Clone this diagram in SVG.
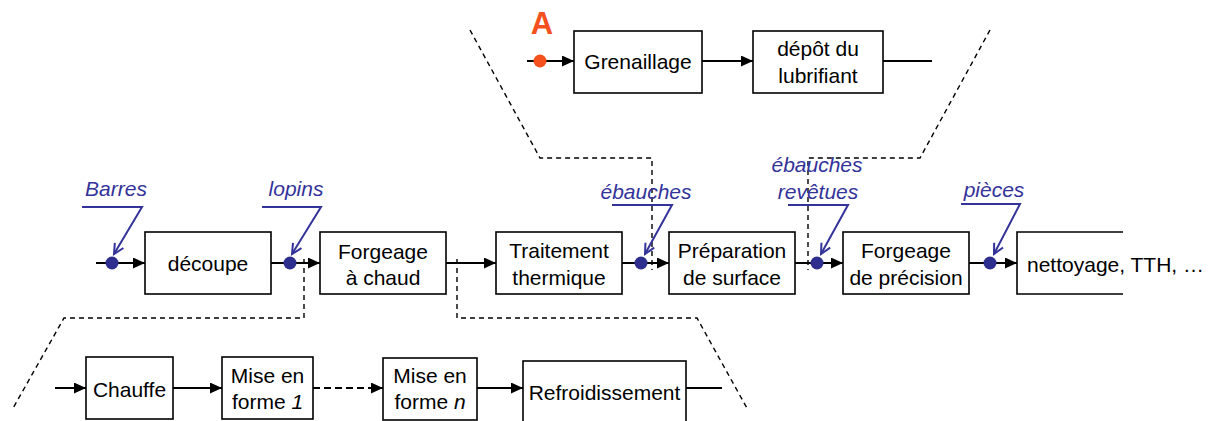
<svg xmlns="http://www.w3.org/2000/svg" width="1216" height="421" viewBox="0 0 1216 421">
<defs>
<style>
.box{fill:#fff;stroke:#000;stroke-width:1.6}
.t{font-family:"Liberation Sans",Arial,sans-serif;font-size:21px;fill:#000;text-anchor:middle}
.ts{text-anchor:start}
.lbl{font-family:"Liberation Sans",Arial,sans-serif;font-size:21px;font-style:italic;fill:#33339A;text-anchor:middle}
.c{stroke:#000;stroke-width:2;fill:none}
.ca{stroke:#000;stroke-width:2;fill:none;marker-end:url(#ah)}
.dash{stroke:#000;stroke-width:1.4;fill:none;stroke-dasharray:5 4}
.call{stroke:#33339A;stroke-width:2;fill:none;marker-end:url(#bh)}
.dot{fill:#2E2E8F}
</style>
<marker id="ah" markerUnits="userSpaceOnUse" markerWidth="13" markerHeight="11" refX="12" refY="5.5" orient="auto">
<path d="M0,0 L12,5.5 L0,11 z" fill="#000"/>
</marker>
<marker id="bh" markerUnits="userSpaceOnUse" markerWidth="14" markerHeight="14" refX="11" refY="6" orient="auto">
<path d="M1,1 L11,6 L1,11" fill="none" stroke="#33339A" stroke-width="2"/>
</marker>
</defs>

<g id="connectors">
<line class="ca" x1="527" y1="61" x2="574" y2="61"/>
<line class="ca" x1="702" y1="61" x2="753" y2="61"/>
<line class="c" x1="883" y1="61" x2="932" y2="61"/>
<line class="ca" x1="96" y1="263" x2="145" y2="263"/>
<line class="ca" x1="271" y1="263" x2="320" y2="263"/>
<line class="ca" x1="446" y1="263" x2="496" y2="263"/>
<line class="ca" x1="622" y1="263" x2="669" y2="263"/>
<line class="ca" x1="795" y1="263" x2="843" y2="263"/>
<line class="ca" x1="969" y1="263" x2="1017" y2="263"/>
<line class="ca" x1="55" y1="388" x2="86" y2="388"/>
<line class="ca" x1="173" y1="388" x2="222" y2="388"/>
<line class="ca" x1="313" y1="388" x2="383" y2="388" stroke-dasharray="7 4"/>
<line class="ca" x1="477" y1="388" x2="523" y2="388"/>
<line class="c" x1="686" y1="388" x2="722" y2="388"/>
<polyline class="dash" points="470,30 540,158 652,158 652,270"/>
<polyline class="dash" points="990,30 920,158 808,158 808,270"/>
<polyline class="dash" points="304,259 304,318 64,318 12,410"/>
<polyline class="dash" points="457,259 457,318 697,318 748,410"/>
<polyline class="call" points="82,207 142,207 114,254"/>
<polyline class="call" points="262,207 321,207 292,254"/>
<polyline class="call" points="612,205 672,205 645,254"/>
<polyline class="call" points="788,205 848,205 821,254"/>
<polyline class="call" points="961,204 1020,204 994,254"/>
</g>

<g id="pointA">
<text x="542" y="34" font-family="Liberation Sans,Arial,sans-serif" font-size="31" font-weight="bold" fill="#F4511E" text-anchor="middle">A</text>
<circle cx="540" cy="61" r="6.5" fill="#F4511E"/>
</g>
<g id="grenaillage">
<rect class="box" x="574" y="31" width="128" height="62"/>
<text class="t" x="638" y="69">Grenaillage</text>
</g>
<g id="depot">
<rect class="box" x="753" y="31" width="130" height="62"/>
<text class="t" x="818" y="56">dépôt du</text>
<text class="t" x="818" y="83">lubrifiant</text>
</g>

<g id="barres">
<text class="lbl" x="116" y="196">Barres</text>
<circle class="dot" cx="112" cy="263" r="6.5"/>
</g>
<g id="decoupe">
<rect class="box" x="145" y="232" width="126" height="62"/>
<text class="t" x="208" y="271">découpe</text>
</g>
<g id="lopins">
<text class="lbl" x="296" y="196">lopins</text>
<circle class="dot" cx="290" cy="263" r="6.5"/>
</g>
<g id="forgeage-chaud">
<rect class="box" x="320" y="232" width="126" height="62"/>
<text class="t" x="383" y="259">Forgeage</text>
<text class="t" x="383" y="285">à chaud</text>
</g>
<g id="traitement">
<rect class="box" x="496" y="232" width="126" height="62"/>
<text class="t" x="559" y="258">Traitement</text>
<text class="t" x="559" y="285">thermique</text>
</g>
<g id="ebauches">
<text class="lbl" x="646" y="199">ébauches</text>
<circle class="dot" cx="641" cy="263" r="6.5"/>
</g>
<g id="preparation">
<rect class="box" x="669" y="232" width="126" height="62"/>
<text class="t" x="732" y="258">Préparation</text>
<text class="t" x="732" y="285">de surface</text>
</g>
<g id="ebauches-revetues">
<text class="lbl" x="817" y="172">ébauches</text>
<text class="lbl" x="818" y="199">revêtues</text>
<circle class="dot" cx="817" cy="263" r="6.5"/>
</g>
<g id="forgeage-precision">
<rect class="box" x="843" y="232" width="126" height="62"/>
<text class="t" x="906" y="258">Forgeage</text>
<text class="t" x="906" y="285">de précision</text>
</g>
<g id="pieces">
<text class="lbl" x="994" y="197">pièces</text>
<circle class="dot" cx="990" cy="263" r="6.5"/>
</g>
<g id="nettoyage">
<polyline points="1123,232 1017,232 1017,294 1123,294" fill="none" stroke="#000" stroke-width="1.6"/>
<text class="t ts" x="1027" y="272">nettoyage, TTH, …</text>
</g>

<g id="chauffe">
<rect class="box" x="86" y="357" width="87" height="62"/>
<text class="t" x="129.5" y="397">Chauffe</text>
</g>
<g id="mise-en-forme-1">
<rect class="box" x="222" y="357" width="91" height="62"/>
<text class="t" x="267.5" y="383">Mise en</text>
<text class="t" x="267.5" y="409">forme <tspan font-style="italic">1</tspan></text>
</g>
<g id="mise-en-forme-n">
<rect class="box" x="383" y="358" width="94" height="62"/>
<text class="t" x="430" y="383">Mise en</text>
<text class="t" x="430" y="409">forme <tspan font-style="italic">n</tspan></text>
</g>
<g id="refroidissement">
<rect class="box" x="523" y="361" width="163" height="66"/>
<text class="t" x="604.5" y="400">Refroidissement</text>
</g>
</svg>
